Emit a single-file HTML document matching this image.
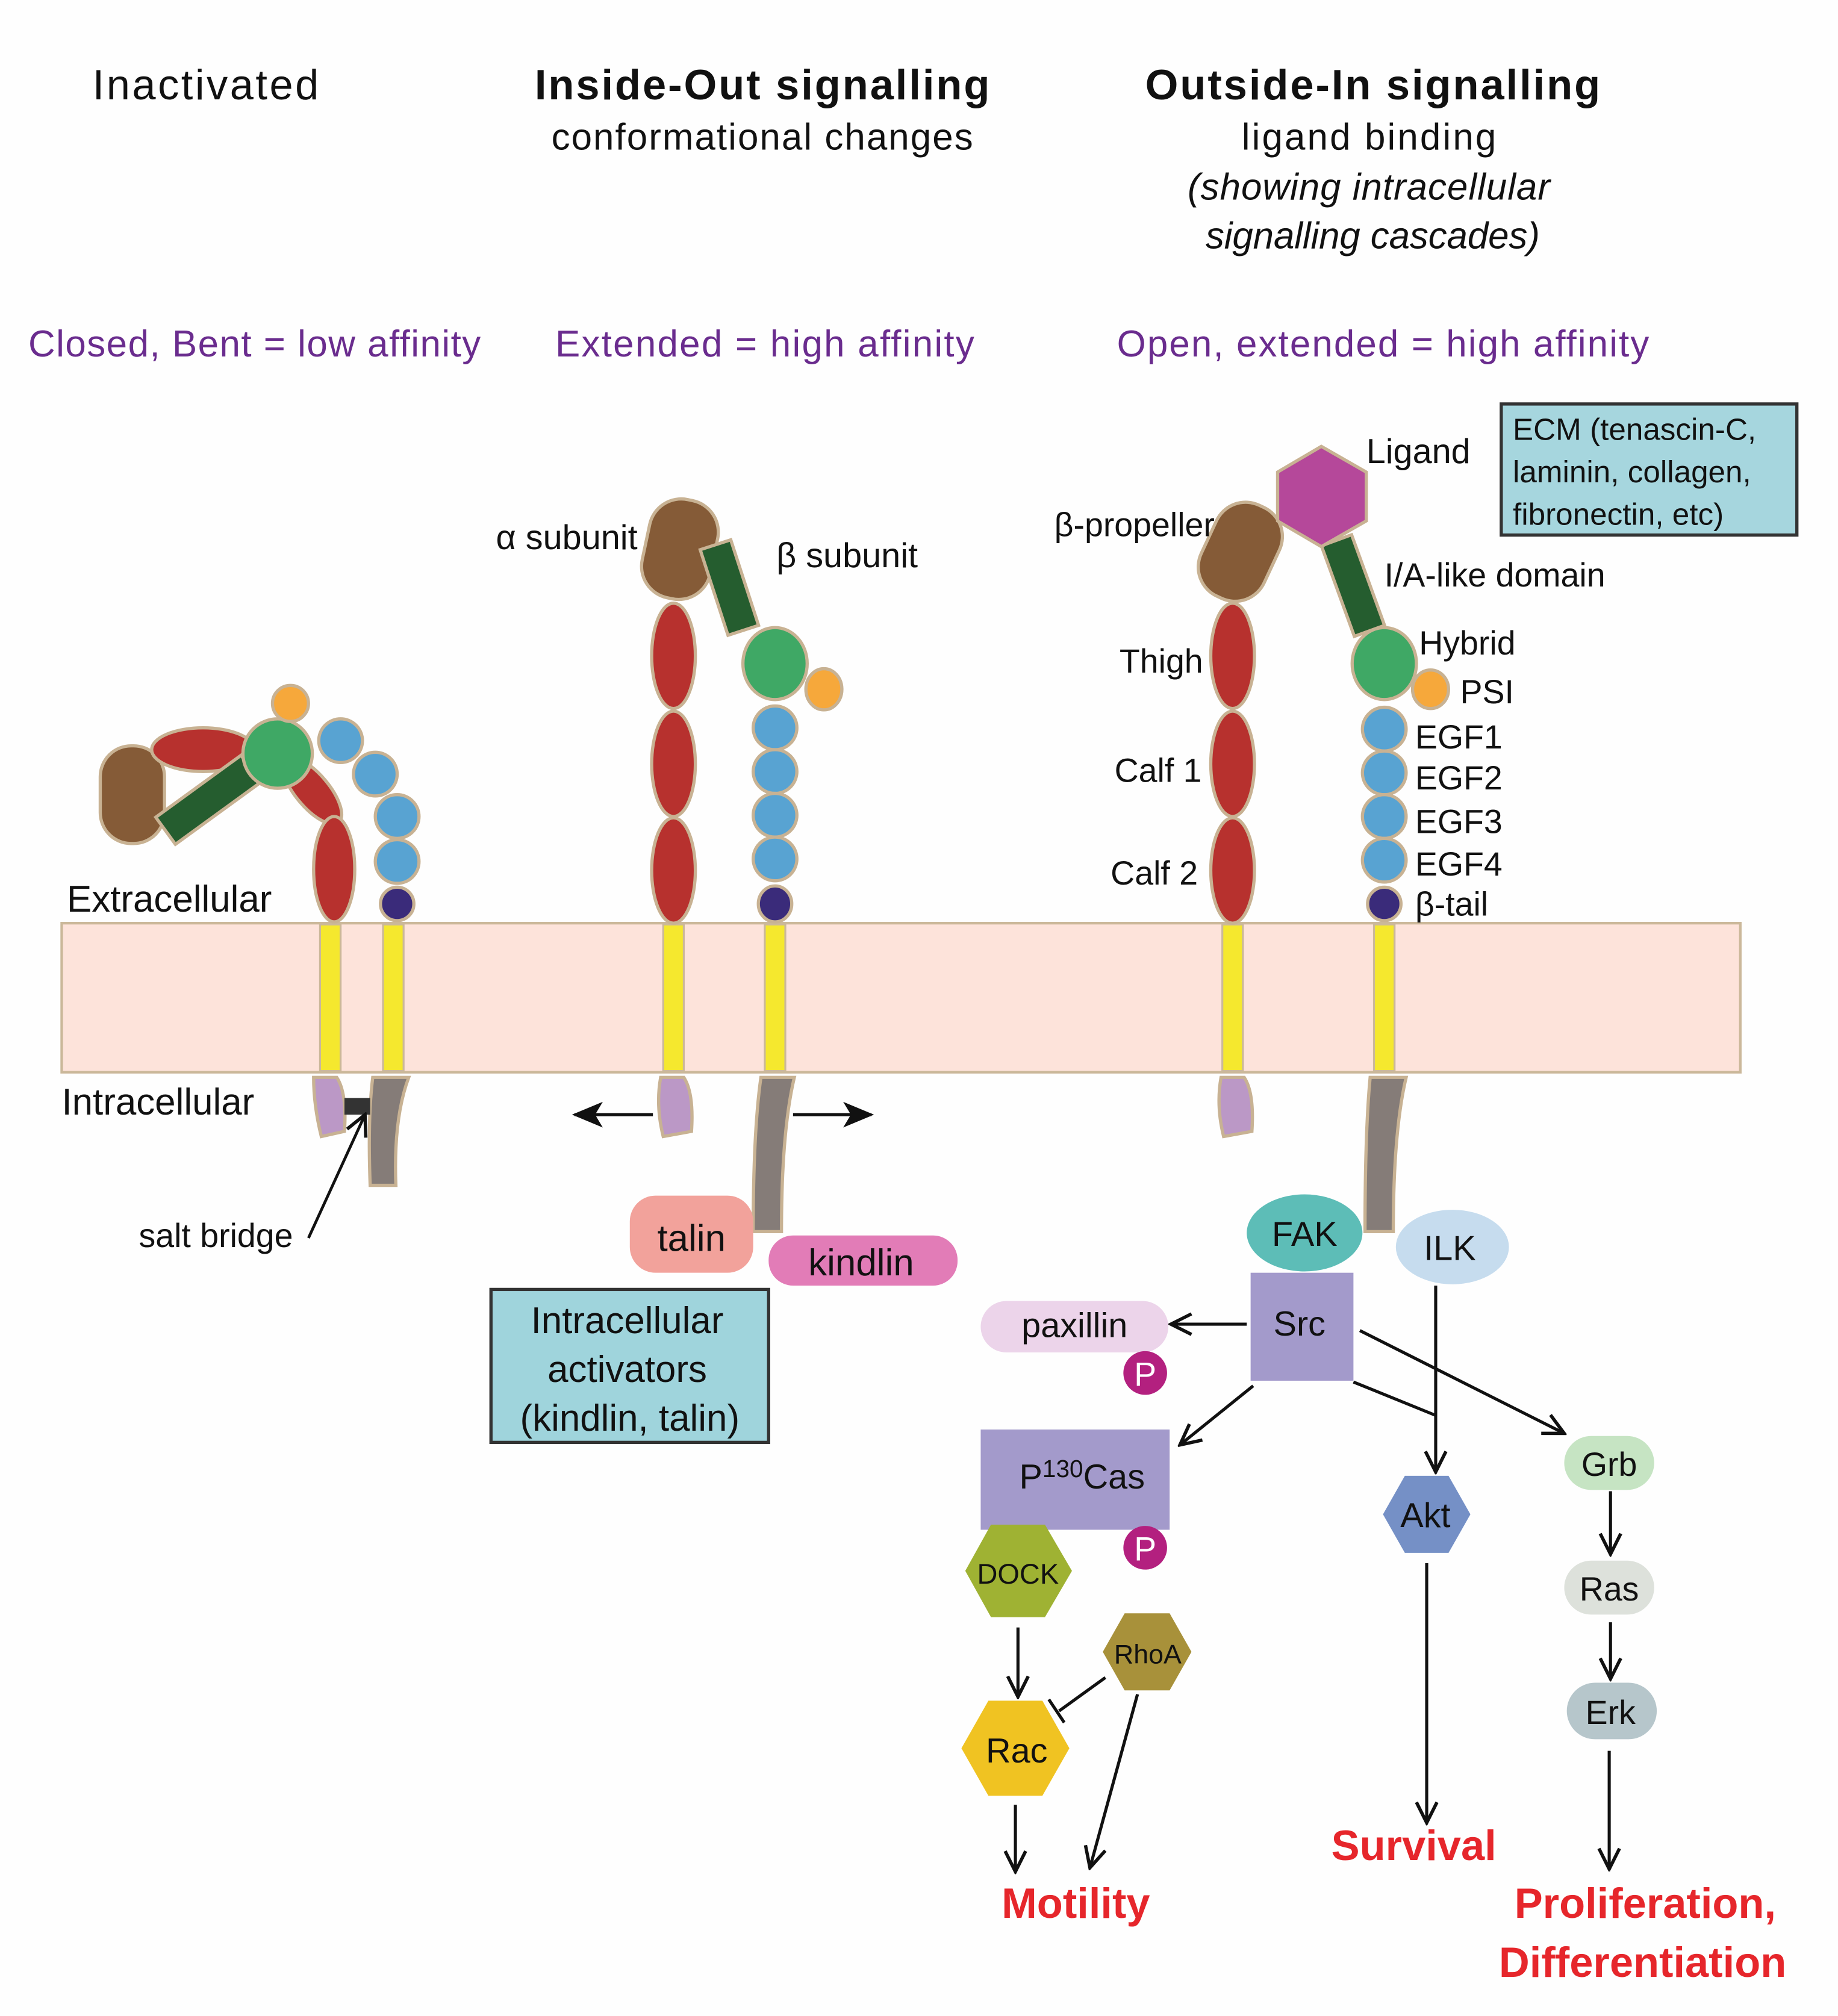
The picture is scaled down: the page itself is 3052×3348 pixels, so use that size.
<!DOCTYPE html>
<html><head><meta charset="utf-8"><style>
html,body{margin:0;padding:0;background:#fff}
svg{display:block}
text{font-family:"Liberation Sans",sans-serif;fill:#111}
</style></head><body>
<svg width="3052" height="3348" viewBox="0 0 1430 1568" xmlns="http://www.w3.org/2000/svg">
<defs>
<marker id="ah" viewBox="0 0 20 20" refX="18" refY="10" markerWidth="20" markerHeight="20" markerUnits="userSpaceOnUse" orient="auto">
<path d="M2,2 L18,10 L2,18" fill="none" stroke="#111" stroke-width="2.6"/></marker>
<marker id="fa" viewBox="0 0 24 20" refX="22" refY="10" markerWidth="24" markerHeight="20" markerUnits="userSpaceOnUse" orient="auto">
<path d="M0,0 L24,10 L0,20 L6,10Z" fill="#111"/></marker>
</defs>
<rect width="1430" height="1568" fill="#fefefe"/>
<text x="160" y="77" font-size="33" text-anchor="middle" textLength="176">Inactivated</text>
<text x="593" y="77" font-size="33" font-weight="bold" text-anchor="middle" textLength="354">Inside-Out signalling</text>
<text x="593" y="116" font-size="29" text-anchor="middle" textLength="328">conformational changes</text>
<text x="1068" y="77" font-size="33" font-weight="bold" text-anchor="middle" textLength="354">Outside-In signalling</text>
<text x="1065" y="116" font-size="29" text-anchor="middle" textLength="198">ligand binding</text>
<text x="1065" y="155" font-size="29" font-style="italic" text-anchor="middle" textLength="282">(showing intracellular</text>
<text x="1068" y="193" font-size="29" font-style="italic" text-anchor="middle" textLength="260">signalling cascades)</text>
<g font-size="29" text-anchor="middle">
<text x="198" y="277" textLength="352" style="fill:#6a2c8e">Closed, Bent = low affinity</text>
<text x="595" y="277" textLength="326" style="fill:#6a2c8e">Extended = high affinity</text>
<text x="1076" y="277" textLength="414" style="fill:#6a2c8e">Open, extended = high affinity</text>
</g>
<rect x="48" y="718" width="1306" height="116" fill="#fde3da" stroke="#cbb89a" stroke-width="2"/>
<g fill="#f5e82e" stroke="#cbb89a" stroke-width="1.5">
<rect x="249" y="719" width="16" height="114"/><rect x="298" y="719" width="16" height="114"/>
<rect x="516" y="719" width="16" height="114"/><rect x="595" y="719" width="16" height="114"/>
<rect x="951" y="719" width="16" height="114"/><rect x="1069" y="719" width="16" height="114"/>
</g>
<g stroke="#c8b293" stroke-width="2.5">
<rect x="78" y="580" width="50" height="76" rx="24" fill="#855b37"/>
<ellipse cx="158" cy="583" rx="40" ry="17" fill="#b7312e"/>
<ellipse cx="243" cy="615" rx="13" ry="32" transform="rotate(-40 243 615)" fill="#b7312e"/>
<rect x="121" y="609" width="82" height="26" transform="rotate(-36 162 622)" fill="#255d2f"/>
<circle cx="216" cy="586" r="27" fill="#3fa865"/>
<circle cx="226" cy="547" r="14" fill="#f6a83b"/>
<ellipse cx="260" cy="676" rx="16" ry="41" fill="#b7312e"/>
<g fill="#58a3d2"><circle cx="265" cy="576" r="17"/><circle cx="292" cy="602" r="17"/><circle cx="309" cy="635" r="17"/><circle cx="309" cy="670" r="17"/></g>
<circle cx="309" cy="703" r="13" fill="#3a2b7a"/>
<path d="M244,838 L262,838 Q270,850 268,880 L250,884 Q244,860 244,838Z" fill="#bb98c6"/>
<path d="M290,838 L318,838 Q306,870 308,922 L288,922 Q286,870 290,838Z" fill="#857c78"/>
<rect x="502" y="388" width="54" height="78" rx="25" transform="rotate(12 529 427)" fill="#855b37"/>
<rect x="555" y="422" width="25" height="70" transform="rotate(-18 567 457)" fill="#255d2f"/>
<ellipse cx="524" cy="510" rx="17" ry="41" fill="#b7312e"/>
<ellipse cx="524" cy="594" rx="17" ry="41" fill="#b7312e"/>
<ellipse cx="524" cy="677" rx="17" ry="41" fill="#b7312e"/>
<ellipse cx="603" cy="516" rx="25" ry="28" fill="#3fa865"/>
<ellipse cx="641" cy="536" rx="14" ry="16" fill="#f6a83b"/>
<g fill="#58a3d2"><ellipse cx="603" cy="566" rx="17" ry="17"/><ellipse cx="603" cy="600" rx="17" ry="17"/><ellipse cx="603" cy="634" rx="17" ry="17"/><ellipse cx="603" cy="668" rx="17" ry="17"/></g>
<ellipse cx="603" cy="703" rx="13" ry="14" fill="#3a2b7a"/>
<path d="M514,838 L532,838 Q540,850 538,880 L516,884 Q510,860 514,838Z" fill="#bb98c6"/>
<path d="M592,838 L618,838 Q608,880 608,958 L586,958 Q586,880 592,838Z" fill="#857c78"/>
<rect x="938" y="390" width="54" height="78" rx="25" transform="rotate(25 965 429)" fill="#855b37"/>
<rect x="1040" y="418" width="25" height="75" transform="rotate(-20 1052 455)" fill="#255d2f"/>
<polygon points="1028,347 1063,367 1063,405 1028,425 994,405 994,367" fill="#b5489a"/>
<ellipse cx="959" cy="510" rx="17" ry="41" fill="#b7312e"/>
<ellipse cx="959" cy="594" rx="17" ry="41" fill="#b7312e"/>
<ellipse cx="959" cy="677" rx="17" ry="41" fill="#b7312e"/>
<ellipse cx="1077" cy="516" rx="25" ry="28" fill="#3fa865"/>
<ellipse cx="1113" cy="536" rx="14" ry="15" fill="#f6a83b"/>
<g fill="#58a3d2"><circle cx="1077" cy="567" r="17"/><circle cx="1077" cy="601" r="17"/><circle cx="1077" cy="635" r="17"/><circle cx="1077" cy="669" r="17"/></g>
<circle cx="1077" cy="703" r="13" fill="#3a2b7a"/>
<path d="M950,838 L968,838 Q976,850 974,880 L952,884 Q946,860 950,838Z" fill="#bb98c6"/>
<path d="M1066,838 L1094,838 Q1084,880 1084,958 L1062,958 Q1062,880 1066,838Z" fill="#857c78"/>
</g>
<rect x="268" y="854" width="20" height="13" fill="#333"/>
<line x1="240" y1="963" x2="284" y2="867" stroke="#111" stroke-width="2.2" marker-end="url(#ah)"/>
<text x="108" y="970" font-size="26">salt bridge</text>
<text x="52" y="709" font-size="29">Extracellular</text>
<text x="48" y="867" font-size="29">Intracellular</text>
<line x1="508" y1="867" x2="447" y2="867" stroke="#111" stroke-width="2.5" marker-end="url(#fa)"/>
<line x1="617" y1="867" x2="678" y2="867" stroke="#111" stroke-width="2.5" marker-end="url(#fa)"/>
<text x="496" y="427" font-size="27" text-anchor="end">α subunit</text>
<text x="604" y="441" font-size="27">β subunit</text>
<rect x="490" y="930" width="96" height="60" rx="20" fill="#f2a29b"/>
<text x="538" y="973" font-size="29" text-anchor="middle">talin</text>
<rect x="598" y="961" width="147" height="39" rx="19" fill="#e27cb7"/>
<text x="670" y="992" font-size="29" text-anchor="middle">kindlin</text>
<rect x="382" y="1003" width="216" height="119" fill="#9fd4dc" stroke="#333" stroke-width="2.5"/>
<text x="488" y="1037" font-size="29" text-anchor="middle">Intracellular</text>
<text x="488" y="1075" font-size="29" text-anchor="middle">activators</text>
<text x="490" y="1113" font-size="29" text-anchor="middle">(kindlin, talin)</text>
<text x="1063" y="360" font-size="27">Ligand</text>
<rect x="1168" y="314" width="230" height="102" fill="#a6d6de" stroke="#333" stroke-width="2.5"/>
<text x="1177" y="342" font-size="24">ECM (tenascin-C,</text>
<text x="1177" y="375" font-size="24">laminin,  collagen,</text>
<text x="1177" y="408" font-size="24">fibronectin, etc)</text>
<text x="945" y="417" font-size="26" text-anchor="end">β-propeller</text>
<text x="1077" y="456" font-size="26">I/A-like domain</text>
<text x="1104" y="509" font-size="26">Hybrid</text>
<text x="1136" y="547" font-size="26">PSI</text>
<text x="1101" y="582" font-size="26">EGF1</text>
<text x="1101" y="614" font-size="26">EGF2</text>
<text x="1101" y="648" font-size="26">EGF3</text>
<text x="1101" y="681" font-size="26">EGF4</text>
<text x="1101" y="712" font-size="26">β-tail</text>
<text x="936" y="523" font-size="26" text-anchor="end">Thigh</text>
<text x="935" y="608" font-size="26" text-anchor="end">Calf 1</text>
<text x="932" y="688" font-size="26" text-anchor="end">Calf 2</text>
<ellipse cx="1015" cy="959" rx="45" ry="30" fill="#5dbdb7"/>
<text x="1015" y="969" font-size="27" text-anchor="middle">FAK</text>
<ellipse cx="1130" cy="970" rx="44" ry="29" fill="#c6dcee"/>
<text x="1128" y="980" font-size="27" text-anchor="middle">ILK</text>
<rect x="973" y="990" width="80" height="84" fill="#a39acb"/>
<text x="1011" y="1039" font-size="27" text-anchor="middle">Src</text>
<rect x="763" y="1012" width="146" height="40" rx="20" fill="#ecd4ea"/>
<text x="836" y="1040" font-size="27" text-anchor="middle">paxillin</text>
<circle cx="891" cy="1068" r="17" fill="#b3207f"/>
<text x="891" y="1078" font-size="26" text-anchor="middle" style="fill:#fff">P</text>
<rect x="763" y="1112" width="147" height="78" fill="#a39acb"/>
<text x="793" y="1158" font-size="27">P<tspan font-size="19" dy="-9">130</tspan><tspan dy="9">Cas</tspan></text>
<circle cx="891" cy="1204" r="17" fill="#b3207f"/>
<text x="891" y="1214" font-size="26" text-anchor="middle" style="fill:#fff">P</text>
<polygon points="751,1222 771,1186 813,1186 834,1222 813,1258 771,1258" fill="#9fb233"/>
<text x="792" y="1232" font-size="22" text-anchor="middle">DOCK</text>
<polygon points="858,1285 875,1255 910,1255 927,1285 910,1315 875,1315" fill="#a8913a"/>
<text x="893" y="1294" font-size="21" text-anchor="middle">RhoA</text>
<polygon points="748,1360 769,1323 811,1323 832,1360 811,1397 769,1397" fill="#f0c322"/>
<text x="791" y="1371" font-size="27" text-anchor="middle">Rac</text>
<polygon points="1076,1178 1093,1148 1127,1148 1144,1178 1127,1208 1093,1208" fill="#7590c6"/>
<text x="1109" y="1188" font-size="27" text-anchor="middle">Akt</text>
<rect x="1217" y="1117" width="70" height="42" rx="21" fill="#c6e4c3"/>
<text x="1252" y="1148" font-size="26" text-anchor="middle">Grb</text>
<rect x="1217" y="1214" width="70" height="42" rx="21" fill="#dde1db"/>
<text x="1252" y="1245" font-size="26" text-anchor="middle">Ras</text>
<rect x="1219" y="1309" width="70" height="44" rx="22" fill="#b6c6cb"/>
<text x="1253" y="1341" font-size="26" text-anchor="middle">Erk</text>
<g stroke="#111" stroke-width="2.4" fill="none">
<line x1="970" y1="1030" x2="911" y2="1030" marker-end="url(#ah)"/>
<line x1="975" y1="1078" x2="918" y2="1124" marker-end="url(#ah)"/>
<line x1="1117" y1="1000" x2="1117" y2="1145" marker-end="url(#ah)"/>
<polyline points="1053,1075 1117,1101"/>
<line x1="1058" y1="1035" x2="1217" y2="1115" marker-end="url(#ah)"/>
<line x1="1110" y1="1216" x2="1110" y2="1418" marker-end="url(#ah)"/>
<line x1="1253" y1="1160" x2="1253" y2="1209" marker-end="url(#ah)"/>
<line x1="1253" y1="1262" x2="1253" y2="1306" marker-end="url(#ah)"/>
<line x1="1252" y1="1362" x2="1252" y2="1454" marker-end="url(#ah)"/>
<line x1="792" y1="1266" x2="792" y2="1320" marker-end="url(#ah)"/>
<line x1="790" y1="1404" x2="790" y2="1456" marker-end="url(#ah)"/>
<line x1="885" y1="1318" x2="848" y2="1453" marker-end="url(#ah)"/>
<line x1="860" y1="1305" x2="824" y2="1331"/>
<line x1="816" y1="1322" x2="828" y2="1340"/>
</g>
<g font-size="33" font-weight="bold" text-anchor="middle">
<text x="837" y="1492" style="fill:#e6262b">Motility</text>
<text x="1100" y="1447" style="fill:#e6262b">Survival</text>
<text x="1280" y="1492" style="fill:#e6262b">Proliferation,</text>
<text x="1278" y="1538" style="fill:#e6262b">Differentiation</text>
</g>
</svg>
</body></html>
